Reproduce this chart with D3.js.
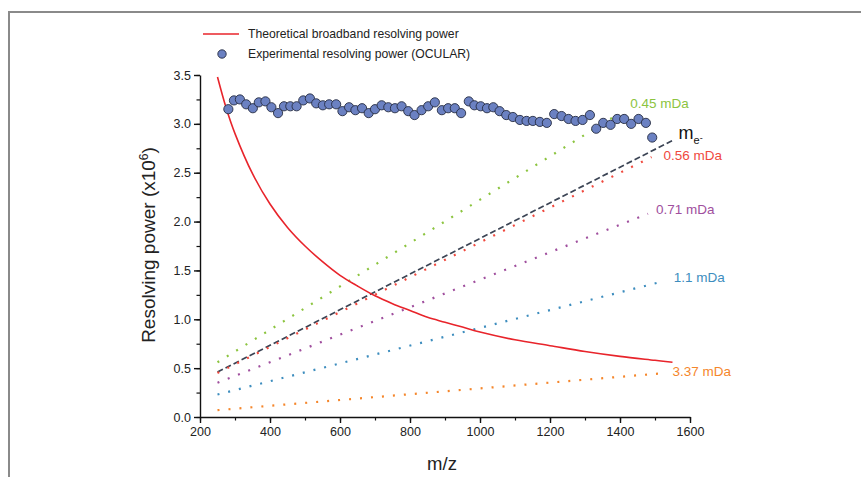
<!DOCTYPE html>
<html>
<head>
<meta charset="utf-8">
<script src="https://cdn.jsdelivr.net/npm/d3@7"></script>
<style>
  body { margin: 0; background: #fff; }
  svg { display: block; font-family: "Liberation Sans", Arial, Helvetica, sans-serif; }
</style>
</head>
<body>
<svg id="chart"></svg>
<script>
// theoretical broadband resolving power (x10^6)
var theoMz = [250, 275, 300, 350, 400, 450, 500, 550, 600, 650, 700, 750, 800, 850, 900, 950, 1000, 1100, 1200, 1300, 1400, 1500, 1550];
var theoRP = [3.48, 3.16, 2.90, 2.49, 2.18, 1.94, 1.75, 1.59, 1.45, 1.34, 1.24, 1.16, 1.09, 1.02, 0.97, 0.92, 0.87, 0.79, 0.73, 0.67, 0.62, 0.58, 0.56];

// experimental resolving power (OCULAR)
var expMz = [281, 297, 314, 332, 351, 368, 387, 404, 423, 440, 458, 476, 495, 514, 532, 551, 569, 589, 607, 626,
  644, 663, 682, 700, 719, 738, 757, 776, 795, 813, 833, 852, 871, 891, 909, 928, 946, 968, 984, 1002,
  1020, 1038, 1056, 1075, 1094, 1114, 1133, 1151, 1171, 1191, 1212, 1233, 1253, 1273, 1293, 1314, 1332, 1352, 1373, 1392,
  1412, 1432, 1453, 1474, 1492];
var expRP = [3.15, 3.24, 3.25, 3.20, 3.16, 3.22, 3.23, 3.17, 3.11, 3.18, 3.18, 3.18, 3.24, 3.26, 3.21, 3.19, 3.20, 3.20, 3.13, 3.17,
  3.14, 3.16, 3.11, 3.15, 3.19, 3.17, 3.16, 3.18, 3.13, 3.09, 3.14, 3.18, 3.22, 3.14, 3.16, 3.16, 3.11, 3.23, 3.19, 3.18,
  3.16, 3.17, 3.13, 3.09, 3.07, 3.04, 3.03, 3.03, 3.02, 3.01, 3.10, 3.08, 3.05, 3.03, 3.04, 3.09, 2.95, 3.01, 2.99, 3.05,
  3.05, 3.00, 3.05, 3.01, 2.86];

// required resolving power lines (start / end points)
var refNames   = ["0.45 mDa", "me", "0.56 mDa", "0.71 mDa", "1.1 mDa", "3.37 mDa"];
var refStartMz = [250, 250, 250, 250, 250, 250];
var refStartRP = [0.56, 0.46, 0.45, 0.35, 0.23, 0.07];
var refEndMz   = [1395, 1550, 1490, 1480, 1525, 1530];
var refEndRP   = [3.10, 2.83, 2.66, 2.08, 1.39, 0.45];

var xTicks = [200, 400, 600, 800, 1000, 1200, 1400, 1600];
var yTicks = [0, 0.5, 1.0, 1.5, 2.0, 2.5, 3.0, 3.5];

// styling for the reference lines
var refColors = ["#8cc43f", "#3b4454", "#f0493e", "#a04f9e", "#3d8dbe", "#f5862b"];
var refDash   = ["2,9", "6,3", "2,9", "2,9", "2,9", "2,9"];
var refLabelDx = [12, 6, 12, 8, 10, 7];
var refLabelDy = [-6, -2, 3, 0, 1, 3];

var W = 861, H = 477;
var svg = d3.select("#chart").attr("width", W).attr("height", H);

// grey frame around the figure
svg.append("rect")
  .attr("x", 9).attr("y", 12)
  .attr("width", W).attr("height", H)
  .attr("fill", "none").attr("stroke", "#8a8a8a").attr("stroke-width", 2);

var x = d3.scaleLinear().domain([200, 1600]).range([200, 690]);
var y = d3.scaleLinear().domain([0, 3.5]).range([417, 75]);

// axes, major + minor ticks
var xMinor = d3.range(200, 1601, 100);
var yMinor = d3.range(0, 3.51, 0.25);

svg.append("g").attr("transform", "translate(0,417)")
  .call(d3.axisBottom(x).tickValues(xMinor).tickSize(3.5).tickFormat(""))
  .call(function(g){ g.select(".domain").remove(); })
  .selectAll("line").attr("stroke", "#111").attr("stroke-width", 1.2);

svg.append("g").attr("transform", "translate(200,0)")
  .call(d3.axisLeft(y).tickValues(yMinor).tickSize(3.5).tickFormat(""))
  .call(function(g){ g.select(".domain").remove(); })
  .selectAll("line").attr("stroke", "#111").attr("stroke-width", 1.2);

var xAxis = svg.append("g").attr("transform", "translate(0,417)")
  .call(d3.axisBottom(x).tickValues(xTicks).tickSize(6).tickSizeOuter(0).tickPadding(4).tickFormat(d3.format("d")));
var yAxis = svg.append("g").attr("transform", "translate(200,0)")
  .call(d3.axisLeft(y).tickValues(yTicks).tickSize(6).tickSizeOuter(0).tickPadding(3).tickFormat(d3.format(".1f")));

[xAxis, yAxis].forEach(function(a){
  a.select(".domain").attr("stroke", "#111").attr("stroke-width", 1.4);
  a.selectAll("line").attr("stroke", "#111").attr("stroke-width", 1.4);
  a.selectAll("text").attr("font-size", 12.5).attr("fill", "#222")
    .attr("font-family", "'Liberation Sans', Arial, sans-serif");
});

// reference lines
var refData = refNames.map(function(n, i){
  return { name: n, x1: refStartMz[i], y1: refStartRP[i], x2: refEndMz[i], y2: refEndRP[i], i: i };
});

svg.append("g").selectAll("line").data(refData).enter().append("line")
  .attr("x1", function(d){ return x(d.x1); })
  .attr("y1", function(d){ return y(d.y1); })
  .attr("x2", function(d){ return x(d.x2); })
  .attr("y2", function(d){ return y(d.y2); })
  .attr("stroke", function(d){ return refColors[d.i]; })
  .attr("stroke-width", function(d){ return d.name == "me" ? 1.7 : 2.2; })
  .attr("stroke-dasharray", function(d){ return refDash[d.i]; });

var labels = svg.append("g").selectAll("text").data(refData).enter().append("text")
  .attr("x", function(d){ return x(d.x2) + refLabelDx[d.i]; })
  .attr("y", function(d){ return y(d.y2) + refLabelDy[d.i]; })
  .attr("fill", function(d){ return refColors[d.i]; })
  .attr("font-size", 13.5)
  .text(function(d){ return d.name == "me" ? "" : d.name; });

// electron mass label m with subscript e-
var me = refData[1];
var meText = svg.append("text")
  .attr("x", x(me.x2) + 6).attr("y", y(me.y2) - 1)
  .attr("fill", "#111").attr("font-size", 18);
meText.append("tspan").text("m");
meText.append("tspan").attr("dy", 5).attr("font-size", 11).text("e");
meText.append("tspan").attr("dy", -3).attr("font-size", 9).text("-");

// theoretical curve
var theo = theoMz.map(function(m, i){ return [m, theoRP[i]]; });
svg.append("path").datum(theo)
  .attr("fill", "none").attr("stroke", "#e8242b").attr("stroke-width", 1.6)
  .attr("d", d3.line().x(function(d){ return x(d[0]); }).y(function(d){ return y(d[1]); }).curve(d3.curveCatmullRom));

// experimental points
var exp = expMz.map(function(m, i){ return [m, expRP[i]]; });
svg.append("g").selectAll("circle").data(exp).enter().append("circle")
  .attr("cx", function(d){ return x(d[0]); })
  .attr("cy", function(d){ return y(d[1]); })
  .attr("r", 4.6)
  .attr("fill", "#6b81c2").attr("stroke", "#262c42").attr("stroke-width", 0.9);

// legend
svg.append("line").attr("x1", 203).attr("x2", 239).attr("y1", 34).attr("y2", 34)
  .attr("stroke", "#e8242b").attr("stroke-width", 1.6);
svg.append("text").attr("x", 248).attr("y", 38).attr("font-size", 12.2).attr("fill", "#222")
  .text("Theoretical broadband resolving power");
svg.append("circle").attr("cx", 222).attr("cy", 54).attr("r", 4.2)
  .attr("fill", "#6b81c2").attr("stroke", "#262c42").attr("stroke-width", 0.9);
svg.append("text").attr("x", 248).attr("y", 58).attr("font-size", 12.2).attr("fill", "#222")
  .text("Experimental resolving power (OCULAR)");

// axis titles
svg.append("text").attr("x", 442).attr("y", 470).attr("text-anchor", "middle")
  .attr("font-size", 18.5).attr("fill", "#222").text("m/z");

var yt = svg.append("text")
  .attr("transform", "translate(155,245) rotate(-90)")
  .attr("text-anchor", "middle").attr("font-size", 19).attr("fill", "#222");
yt.append("tspan").text("Resolving power (x10");
yt.append("tspan").attr("dy", -7).attr("font-size", 12).text("6");
yt.append("tspan").attr("dy", 7).text(")");
</script>
</body>
</html>
